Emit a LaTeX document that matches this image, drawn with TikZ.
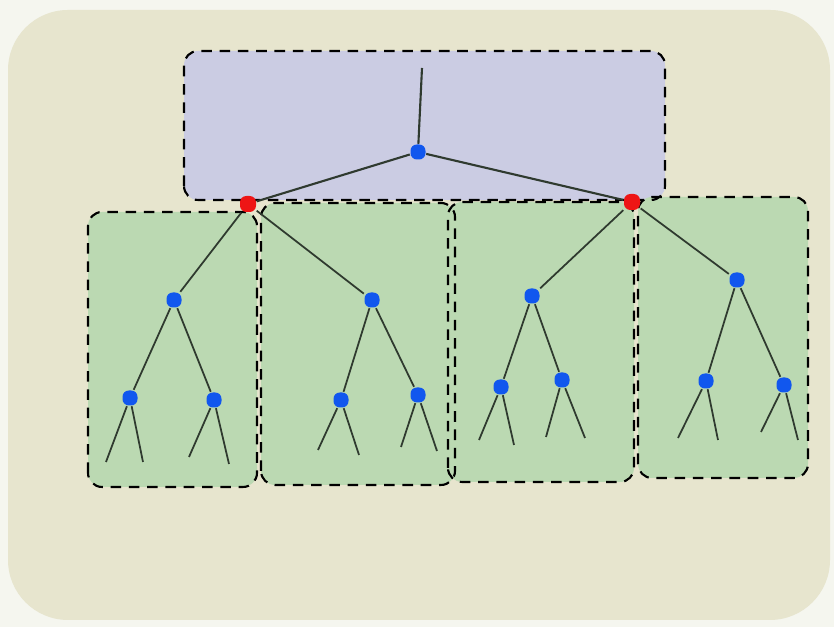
\documentclass[tikz,border=0pt]{standalone}
\usepackage{tikz}
\definecolor{paper}{HTML}{F5F6EF}
\definecolor{beige}{HTML}{E7E5CE}
\definecolor{lavender}{HTML}{CBCCE3}
\definecolor{leafgreen}{HTML}{BBD9B2}
\definecolor{nodeblue}{HTML}{1157EE}
\definecolor{nodered}{HTML}{EE1515}
\definecolor{ink}{HTML}{2F3A2F}
\tikzset{
  bnode/.style={fill=nodeblue, rectangle, rounded corners=1.8pt, minimum size=0.15cm, inner sep=0pt},
  rnode/.style={fill=nodered, rectangle, rounded corners=1.8pt, minimum size=0.16cm, inner sep=0pt},
  region/.style={draw=black, line width=0.6pt, dash pattern=on 3pt off 2.2pt, rounded corners=4pt},
  edge/.style={draw=ink, line width=0.5pt}
}
\begin{document}
\begin{tikzpicture}
\useasboundingbox (0,0) rectangle (8.34,6.27);
\fill[paper] (0,0) rectangle (8.34,6.27);
\fill[beige, rounded corners=0.6cm] (0.08,0.07) rectangle (8.30,6.17);
\fill[lavender, rounded corners=4pt] (1.84,4.27) rectangle (6.65,5.76);
\fill[leafgreen, rounded corners=4pt] (0.88,1.40) rectangle (2.57,4.15);
\fill[leafgreen, rounded corners=4pt] (2.61,1.42) rectangle (4.55,4.24);
\fill[leafgreen, rounded corners=4pt] (4.48,1.45) rectangle (6.34,4.25);
\fill[leafgreen, rounded corners=4pt] (6.38,1.49) rectangle (8.08,4.30);
\draw[region] (1.84,4.27) rectangle (6.65,5.76);
\draw[region] (0.88,1.40) rectangle (2.57,4.15);
\draw[region] (2.61,1.42) rectangle (4.55,4.24);
\draw[region] (4.48,1.45) rectangle (6.34,4.25);
\draw[region] (6.38,1.49) rectangle (8.08,4.30);
\coordinate (top) at (4.22,5.59);
\node[bnode] (r) at (4.18,4.75) {};
\node[rnode] (a) at (2.48,4.23) {};
\node[rnode] (b) at (6.32,4.25) {};
\node[bnode] (a1) at (1.74,3.27) {};
\node[bnode] (a2) at (3.72,3.27) {};
\node[bnode] (b1) at (5.32,3.31) {};
\node[bnode] (b2) at (7.37,3.47) {};
\node[bnode] (a11) at (1.30,2.29) {};
\node[bnode] (a12) at (2.14,2.27) {};
\node[bnode] (a21) at (3.41,2.27) {};
\node[bnode] (a22) at (4.18,2.32) {};
\node[bnode] (b11) at (5.01,2.40) {};
\node[bnode] (b12) at (5.62,2.47) {};
\node[bnode] (b21) at (7.06,2.46) {};
\node[bnode] (b22) at (7.84,2.42) {};
\coordinate (l1) at (1.06,1.65);
\coordinate (l2) at (1.43,1.65);
\coordinate (l3) at (1.89,1.70);
\coordinate (l4) at (2.29,1.63);
\coordinate (l5) at (3.18,1.77);
\coordinate (l6) at (3.59,1.72);
\coordinate (l7) at (4.01,1.80);
\coordinate (l8) at (4.37,1.76);
\coordinate (l9) at (4.79,1.87);
\coordinate (l10) at (5.14,1.82);
\coordinate (l11) at (5.46,1.90);
\coordinate (l12) at (5.85,1.89);
\coordinate (l13) at (6.78,1.89);
\coordinate (l14) at (7.18,1.87);
\coordinate (l15) at (7.61,1.95);
\coordinate (l16) at (7.98,1.87);
\draw[edge, line width=0.6pt] (top)--(r);
\draw[edge, line width=0.6pt] (r)--(a);
\draw[edge, line width=0.6pt] (r)--(b);
\draw[edge] (a)--(a1);
\draw[edge] (a)--(a2);
\draw[edge] (b)--(b1);
\draw[edge] (b)--(b2);
\draw[edge] (a1)--(a11);
\draw[edge] (a1)--(a12);
\draw[edge] (a2)--(a21);
\draw[edge] (a2)--(a22);
\draw[edge] (b1)--(b11);
\draw[edge] (b1)--(b12);
\draw[edge] (b2)--(b21);
\draw[edge] (b2)--(b22);
\draw[edge] (a11)--(l1);
\draw[edge] (a11)--(l2);
\draw[edge] (a12)--(l3);
\draw[edge] (a12)--(l4);
\draw[edge] (a21)--(l5);
\draw[edge] (a21)--(l6);
\draw[edge] (a22)--(l7);
\draw[edge] (a22)--(l8);
\draw[edge] (b11)--(l9);
\draw[edge] (b11)--(l10);
\draw[edge] (b12)--(l11);
\draw[edge] (b12)--(l12);
\draw[edge] (b21)--(l13);
\draw[edge] (b21)--(l14);
\draw[edge] (b22)--(l15);
\draw[edge] (b22)--(l16);
\end{tikzpicture}
\end{document}
